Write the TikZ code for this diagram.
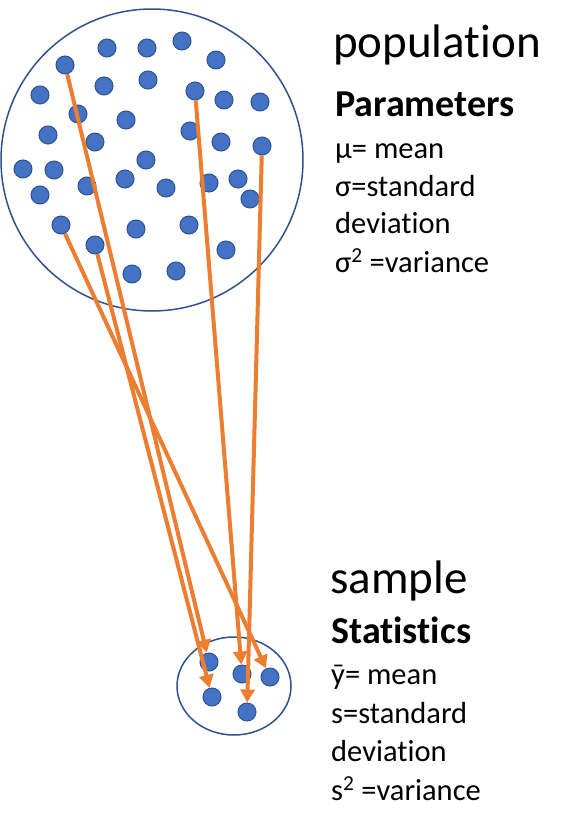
\documentclass[tikz,border=0pt]{standalone}
\usepackage{fontspec}
\setmainfont{Carlito}[Ligatures=NoCommon]
\usetikzlibrary{arrows.meta,shapes.geometric}
\definecolor{dotfill}{HTML}{4472C4}
\definecolor{dotline}{HTML}{2F528F}
\definecolor{arr}{HTML}{ED7D31}
\begin{document}
\begin{tikzpicture}[x=1pt,y=-1pt,
  dot/.style={circle,fill=dotfill,draw=dotline,line width=1pt,minimum size=18pt,inner sep=0pt},
  arrowline/.style={draw=arr,line width=4pt,-{Triangle[length=13pt,width=14pt]}},
  lbl/.style={anchor=base west,inner sep=0pt},
  big/.style={lbl,font=\fontsize{47}{50}\selectfont},
  head/.style={lbl,font=\bfseries\fontsize{38}{40}\selectfont},
  body/.style={lbl,font=\fontsize{30.5}{34}\selectfont}]
\useasboundingbox (0,0) rectangle (574,828);
% population circle
\node (pop) [circle,draw=dotline,line width=1.5pt,minimum size=302pt,inner sep=0pt] at (152,160) {};
% sample ellipse
\node (smp) [ellipse,draw=dotline,line width=1.5pt,minimum width=114pt,minimum height=98pt,inner sep=0pt] at (234,686) {};
% population dots
\foreach \n/\x/\y in {1/107/48,2/147/48,3/182/41,4/65/65,5/216/60,6/104/86,7/148/80,8/40/95,
  9/195/91,10/224/100,11/260/102,12/78/114,13/126/120,14/48/135,15/95/142,16/190/131,
  17/221/142,18/262/146,19/23/169,20/54/170,21/146/160,22/87/186,23/125/179,24/166/188,
  25/209/183,26/238/179,27/40/195,28/250/199,29/61/225,30/136/229,31/189/225,32/95/245,
  33/226/250,34/132/274,35/176/271}
  \node[dot] (p\n) at (\x,\y) {};
% sample dots
\node[dot] (s1) at (209,662) {};
\node[dot] (s2) at (242,674) {};
\node[dot] (s3) at (270,677) {};
\node[dot] (s4) at (212,697) {};
\node[dot] (s5) at (247,712) {};
% arrows
\draw[arrowline] (p4) -- (s1);
\draw[arrowline] (p29) -- (s3);
\draw[arrowline] (p32) -- (s4);
\draw[arrowline] (p9) -- (s2);
\draw[arrowline] (p18) -- (s5);
% texts
\node[big] (t1) at (333,57) {population};
\node[head] (t2) at (335,116) {Parameters};
\node[body] (t3) at (335,158) {μ= mean};
\node[body] (t4) at (335,196) {σ=standard};
\node[body] (t5) at (335,233) {deviation};
\node[body] (t6) at (335,272) {σ\textsuperscript{2} =variance};
\node[big] (u1) at (330,593) {sample};
\node[head] (u2) at (331,643) {Statistics};
\node[body] (u3) at (331,684) {\={y}= mean};
\node[body] (u4) at (331,723) {s=standard};
\node[body] (u5) at (331,761) {deviation};
\node[body] (u6) at (331,800) {s\textsuperscript{2} =variance};
\end{tikzpicture}
\end{document}
